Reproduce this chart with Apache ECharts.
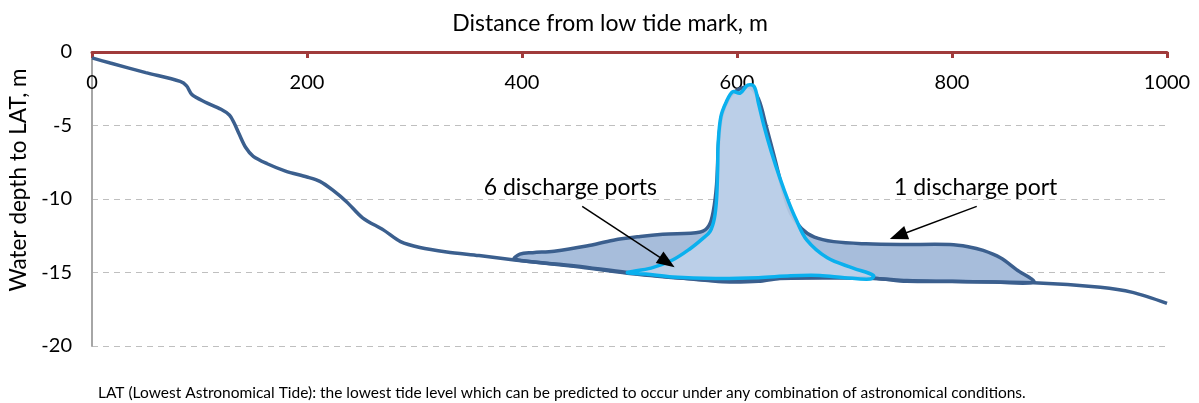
<!DOCTYPE html>
<html>
<head>
<meta charset="utf-8">
<script src="https://cdn.jsdelivr.net/npm/echarts@6/dist/echarts.min.js"></script>
<style>
  html, body { margin: 0; padding: 0; background: #fff; }
  #chart { width: 1199px; height: 403px; }
</style>
</head>
<body>
<div id="chart"></div>
<script>
// seabed profile: [distance from low tide mark (m), depth to LAT (m)]
var seabed = [
  [0, -0.4], [17, -0.75], [50, -1.4], [82, -2.0], [88, -2.3], [93, -2.9],
  [105, -3.4], [120, -3.9], [128, -4.3], [132, -4.8], [137, -5.6], [143, -6.5],
  [150, -7.1], [163, -7.6], [180, -8.1], [200, -8.5], [212, -8.8], [224, -9.4],
  [237, -10.2], [252, -11.3], [271, -12.1], [287, -12.9], [305, -13.3],
  [330, -13.6], [360, -13.85], [393, -14.15], [450, -14.6], [498, -15.05],
  [550, -15.4], [596, -15.65], [620, -15.6], [640, -15.4], [700, -15.35],
  [730, -15.4], [758, -15.6], [800, -15.62], [876, -15.7], [938, -16.0],
  [968, -16.35], [1000, -17.1]
];

// plume outline, 1 discharge port (upper edge, then back along the seabed)
var plumeOnePort = [
  [393, -14.1], [398, -13.75], [410, -13.65], [430, -13.55], [460, -13.2],
  [485, -12.8], [510, -12.55], [531, -12.4], [566, -12.25], [574, -11.8],
  [578, -10.8], [581, -9.0], [583, -6.0], [586, -4.3], [592, -3.2], [600, -2.6],
  [612, -2.4], [620, -3.2], [627, -5.0], [635, -7.2], [643, -9.5], [650, -11.0],
  [660, -12.0], [672, -12.6], [690, -12.9], [720, -13.05], [752, -13.1],
  [798, -13.1], [815, -13.25], [829, -13.5], [845, -14.0], [860, -14.8],
  [876, -15.65], [840, -15.65], [800, -15.6], [758, -15.55], [730, -15.4],
  [700, -15.35], [660, -15.35], [634, -15.4], [596, -15.6], [560, -15.45],
  [498, -15.0], [450, -14.55]
];

// plume outline, 6 discharge ports
var plumeSixPorts = [
  [498, -15.0], [520, -14.7], [540, -14.15], [557, -13.35], [568, -12.7],
  [575, -12.2], [579, -11.3], [581, -10.0], [582, -8.0], [582.5, -6.2],
  [585, -4.4], [590, -3.4], [596, -2.7], [603, -2.8], [610, -2.25], [616, -2.35],
  [620, -3.5], [625, -5.0], [632, -6.8], [640, -8.6], [648, -10.2], [655, -11.4],
  [665, -12.8], [684, -14.0], [708, -14.7], [727, -15.2], [724, -15.45],
  [700, -15.35], [677, -15.2], [650, -15.22], [620, -15.35], [580, -15.4],
  [540, -15.3], [515, -15.1]
];

var xTicks = [0, 200, 400, 600, 800, 1000];
var yTicks = [-20, -15, -10, -5, 0];

// annotation arrows: [from, to] in data units
var arrowSix = [[456, -10.5], [535, -14.3]];
var arrowOne = [[823, -10.5], [750, -12.5]];

var FONT = 'Lato, "Open Sans", sans-serif';

function polygonSeries(name, points, style, z) {
  return {
    name: name,
    type: 'custom',
    z: z,
    silent: true,
    data: [[points[0][0], points[0][1]]],
    renderItem: function (params, api) {
      var pts = points.map(function (p) { return api.coord(p); });
      return {
        type: 'polygon',
        shape: { points: pts, smooth: 0.35 },
        style: style
      };
    }
  };
}

var chart = echarts.init(document.getElementById('chart'));

chart.setOption({
  animation: false,
  textStyle: { fontFamily: FONT },
  title: {
    text: 'Distance from low tide mark, m',
    left: 605,
    top: 7,
    textAlign: 'center',
    textStyle: { fontFamily: FONT, fontSize: 23, fontWeight: 'normal', color: '#000' }
  },
  graphic: [
    {
      type: 'text',
      x: 19,
      y: 180,
      rotation: Math.PI / 2,
      style: {
        text: 'Water depth to LAT, m',
        font: '22.5px ' + FONT,
        fill: '#000',
        align: 'center',
        verticalAlign: 'middle'
      }
    },
    {
      type: 'text',
      x: 98,
      y: 393,
      style: {
        text: 'LAT (Lowest Astronomical Tide): the lowest tide level which can be predicted to occur under any combination of astronomical conditions.',
        font: '15.5px ' + FONT,
        fill: '#000',
        align: 'left',
        verticalAlign: 'middle'
      }
    }
  ],
  grid: { left: 92, right: 32, top: 52, bottom: 57 },
  xAxis: {
    type: 'value',
    position: 'top',
    min: xTicks[0],
    max: xTicks[xTicks.length - 1],
    interval: 200,
    axisLine: { onZero: false, lineStyle: { color: '#A03B3B', width: 3 } },
    axisTick: { inside: true, length: 6, lineStyle: { color: '#A03B3B', width: 3 } },
    axisLabel: {
      inside: true, margin: 21, fontSize: 20, color: '#000', fontFamily: FONT,
      formatter: function (v) { return String(v); }
    },
    splitLine: { show: false }
  },
  yAxis: {
    type: 'value',
    min: yTicks[0],
    max: yTicks[yTicks.length - 1],
    interval: 5,
    axisLine: { show: true, lineStyle: { color: '#A6A6A6', width: 2 } },
    axisTick: { show: false },
    axisLabel: { margin: 20, fontSize: 20, color: '#000', fontFamily: FONT },
    splitLine: { lineStyle: { color: '#BFBFBF', width: 1.2, type: [6, 5] } }
  },
  series: [
    polygonSeries('1 discharge port', plumeOnePort,
      { fill: '#A7BDDB', stroke: '#3B5F8E', lineWidth: 3.5, lineJoin: 'round' }, 2),
    {
      name: 'Seabed',
      type: 'line',
      z: 3,
      data: seabed,
      smooth: 0.3,
      symbol: 'none',
      silent: true,
      lineStyle: { color: '#3B5F8E', width: 3.5 },
      markLine: {
        silent: true,
        symbol: ['none', 'triangle'],
        symbolSize: [14, 18],
        lineStyle: { color: '#000', width: 1.5, type: 'solid' },
        label: { show: false },
        data: [
          [{ coord: arrowSix[0] }, { coord: arrowSix[1] }],
          [{ coord: arrowOne[0] }, { coord: arrowOne[1] }]
        ]
      },
      markPoint: {
        silent: true,
        symbol: 'circle',
        symbolSize: 0,
        label: {
          show: true,
          position: 'inside',
          fontSize: 23,
          color: '#000',
          fontFamily: FONT
        },
        data: [
          { coord: [445, -9.25], value: '6 discharge ports', label: { formatter: '6 discharge ports' } },
          { coord: [822, -9.2], value: '1 discharge port', label: { formatter: '1 discharge port' } }
        ]
      }
    },
    polygonSeries('6 discharge ports', plumeSixPorts,
      { fill: 'rgba(190, 209, 233, 0.88)', stroke: '#0AB0EE', lineWidth: 3.5, lineJoin: 'round' }, 4)
  ]
});
</script>
</body>
</html>
